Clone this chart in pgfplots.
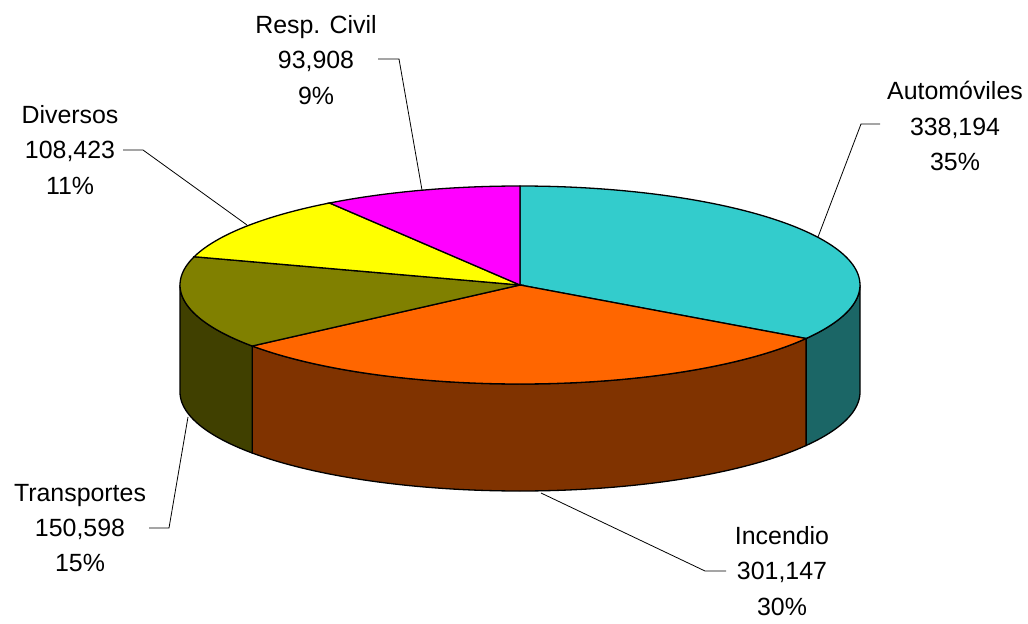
\documentclass[border=0pt]{standalone}
\usepackage{fontspec}
\setmainfont{Liberation Sans}
\usepackage{pgfplots}
\pgfplotsset{compat=1.18}
% values (in thousands)
\pgfmathsetmacro{\vA}{338.194} % Automoviles
\pgfmathsetmacro{\vB}{301.147} % Incendio
\pgfmathsetmacro{\vC}{150.598} % Transportes
\pgfmathsetmacro{\vD}{108.423} % Diversos
\pgfmathsetmacro{\vE}{93.908}  % Resp. Civil
\pgfmathsetmacro{\tot}{\vA+\vB+\vC+\vD+\vE}
\pgfmathsetmacro{\tO}{90}
\pgfmathsetmacro{\tA}{(\tO)-360*(\vA/\tot)}
\pgfmathsetmacro{\tB}{(\tA)-360*(\vB/\tot)}
\pgfmathsetmacro{\tC}{(\tB)-360*(\vC/\tot)}
\pgfmathsetmacro{\tD}{(\tC)-360*(\vD/\tot)}
\pgfmathsetmacro{\tE}{(\tD)-360*(\vE/\tot)}
\def\cx{520}\def\cy{285}\def\ra{340}\def\rb{99}\def\dep{107}
\definecolor{autoT}{HTML}{33CCCC}
\definecolor{autoS}{HTML}{1B6666}
\definecolor{incT}{HTML}{FF6600}
\definecolor{incS}{HTML}{803300}
\definecolor{traT}{HTML}{808000}
\definecolor{traS}{HTML}{404000}
\definecolor{divT}{HTML}{FFFF00}
\definecolor{resT}{HTML}{FF00FF}
\begin{document}
\begin{tikzpicture}
\begin{axis}[
  width=1028bp, height=624bp, scale only axis,
  xmin=0, xmax=1028, ymin=0, ymax=624, y dir=reverse,
  hide axis, clip=false,
]
\path (0,0) rectangle (1028,624);
% side faces
\addplot[draw=black, line width=1.3bp, fill=autoS, domain=0:3, samples=181]
  ({\cx+\ra*cos((\tA)+(0-(\tA))*min(x,1,3-x))},
   {\cy-\rb*sin((\tA)+(0-(\tA))*min(x,1,3-x))+\dep*min(max(x-1,0),1)}) -- cycle;
\addplot[draw=black, line width=1.3bp, fill=incS, domain=0:3, samples=241]
  ({\cx+\ra*cos((\tB)+((\tA)-(\tB))*min(x,1,3-x))},
   {\cy-\rb*sin((\tB)+((\tA)-(\tB))*min(x,1,3-x))+\dep*min(max(x-1,0),1)}) -- cycle;
\addplot[draw=black, line width=1.3bp, fill=traS, domain=0:3, samples=181]
  ({\cx+\ra*cos(-180+((\tB)+180)*min(x,1,3-x))},
   {\cy-\rb*sin(-180+((\tB)+180)*min(x,1,3-x))+\dep*min(max(x-1,0),1)}) -- cycle;
% top faces
\addplot[draw=black, line width=1.3bp, fill=autoT, domain=\tA:\tO, samples=100]
  ({\cx+\ra*cos(x)},{\cy-\rb*sin(x)}) -- (\cx,\cy) -- cycle;
\addplot[draw=black, line width=1.3bp, fill=incT, domain=\tB:\tA, samples=100]
  ({\cx+\ra*cos(x)},{\cy-\rb*sin(x)}) -- (\cx,\cy) -- cycle;
\addplot[draw=black, line width=1.3bp, fill=traT, domain=\tC:\tB, samples=60]
  ({\cx+\ra*cos(x)},{\cy-\rb*sin(x)}) -- (\cx,\cy) -- cycle;
\addplot[draw=black, line width=1.3bp, fill=divT, domain=\tD:\tC, samples=60]
  ({\cx+\ra*cos(x)},{\cy-\rb*sin(x)}) -- (\cx,\cy) -- cycle;
\addplot[draw=black, line width=1.3bp, fill=resT, domain=\tE:\tD, samples=60]
  ({\cx+\ra*cos(x)},{\cy-\rb*sin(x)}) -- (\cx,\cy) -- cycle;
% leader lines
\draw[line width=0.8bp] (880,124) -- (861,124) -- (818,237);
\draw[line width=0.8bp] (378,59) -- (399,59) -- (422,190);
\draw[line width=0.8bp] (123,150) -- (143,150) -- (247,225);
\draw[line width=0.8bp] (149,528) -- (169,528) -- (188,417);
\draw[line width=0.8bp] (726,571) -- (705,571) -- (541,493);
% labels
\tikzset{lab/.style={align=center, inner sep=0pt, font=\fontsize{25}{35.5}\selectfont}}
\node[lab] at (955,126) {Automóviles\\338,194\\35\%};
\node[lab] at (782,571) {Incendio\\301,147\\30\%};
\node[lab] at (80,528) {Transportes\\150,598\\15\%};
\node[lab] at (70,150) {Diversos\\108,423\\11\%};
\node[lab] at (316,60) {Resp. Civil\\93,908\\9\%};
\end{axis}
\end{tikzpicture}
\end{document}
